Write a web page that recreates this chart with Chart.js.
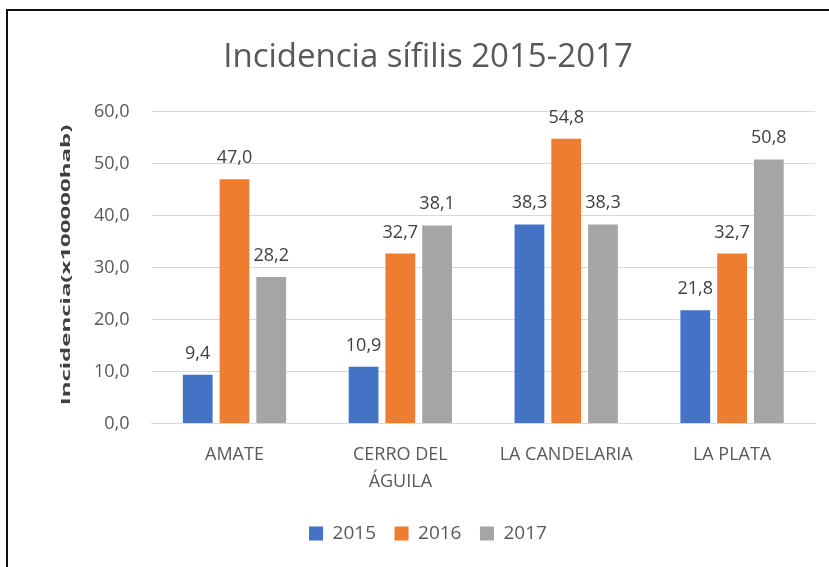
<!DOCTYPE html>
<html><head><meta charset="utf-8">
<script src="https://cdn.jsdelivr.net/npm/chart.js@4/dist/chart.umd.min.js"></script>
<style>
html,body{margin:0;padding:0;background:#fff;overflow:hidden}
#wrap{position:absolute;left:0;top:0;width:829px;height:567px}
#frame{position:absolute;left:6px;top:9px;width:830px;height:600px;border:2px solid #111;pointer-events:none;box-sizing:border-box}
</style></head>
<body>
<div id="wrap"><canvas id="c" width="829" height="567"></canvas></div>
<div id="frame"></div>
<script>
const categories = ['AMATE', ['CERRO DEL', 'ÁGUILA'], 'LA CANDELARIA', 'LA PLATA'];
const seriesNames = ['2015', '2016', '2017'];
const values2015 = [9.4, 10.9, 38.3, 21.8];
const values2016 = [47.0, 32.7, 54.8, 32.7];
const values2017 = [28.2, 38.1, 38.3, 50.8];
const colors = ['#4472C4', '#ED7D31', '#A5A5A5'];
const chartTitle = 'Incidencia sífilis 2015-2017';
const yTitle = 'Incidencia(x100000hab)';

const FONT = "'Open Sans', sans-serif";
const fmt = v => v.toFixed(1).replace('.', ',');

const labelPlugin = {
  id: 'barLabels',
  afterDatasetsDraw(chart) {
    const ctx = chart.ctx;
    ctx.save();
    ctx.font = '18px ' + FONT;
    ctx.fillStyle = '#404040';
    ctx.textAlign = 'center';
    ctx.textBaseline = 'alphabetic';
    chart.data.datasets.forEach((ds, i) => {
      const meta = chart.getDatasetMeta(i);
      meta.data.forEach((bar, j) => {
        ctx.fillText(fmt(ds.data[j]), bar.x, bar.y - 16);
      });
    });
    ctx.restore();
  }
};

const yTitlePlugin = {
  id: 'yTitleStretch',
  afterDraw(chart) {
    const ctx = chart.ctx;
    ctx.save();
    ctx.translate(67, 265);
    ctx.rotate(-Math.PI / 2);
    ctx.scale(2.0, 1);
    ctx.font = 'bold 12px ' + FONT;
    ctx.fillStyle = '#404040';
    ctx.textAlign = 'center';
    ctx.textBaseline = 'middle';
    ctx.fillText(yTitle, 0, 0);
    ctx.restore();
  }
};

new Chart(document.getElementById('c'), {
  type: 'bar',
  data: {
    labels: categories,
    datasets: seriesNames.map((n, i) => ({
      label: n,
      data: [values2015, values2016, values2017][i],
      backgroundColor: colors[i],
      categoryPercentage: 0.665,
      barPercentage: 0.81
    }))
  },
  options: {
    responsive: false,
    animation: false,
    devicePixelRatio: 1,
    layout: { padding: { left: 41, right: 14, top: 28, bottom: 14 } },
    plugins: {
      title: {
        display: true, text: chartTitle,
        font: { family: FONT, size: 33, weight: 'normal' }, color: '#595959',
        padding: { top: 10, bottom: 34 }
      },
      legend: {
        position: 'bottom',
        labels: { font: { family: FONT, size: 19 }, color: '#595959', boxWidth: 14, boxHeight: 14, padding: 18.5 }
      },
      tooltip: { enabled: false }
    },
    scales: {
      x: {
        grid: { display: false },
        border: { color: '#d9d9d9' },
        ticks: { font: { family: FONT, size: 18, lineHeight: 1.5 }, color: '#595959', padding: 10, maxRotation: 0 }
      },
      y: {
        min: 0, max: 60,
        grid: { color: '#d9d9d9', drawTicks: false },
        border: { display: false },
        afterFit: scale => { scale.width += 31; },
        ticks: { stepSize: 10, font: { family: FONT, size: 18 }, color: '#595959', padding: 22, callback: v => fmt(v) }
      }
    }
  },
  plugins: [labelPlugin, yTitlePlugin]
});
</script>
</body></html>
